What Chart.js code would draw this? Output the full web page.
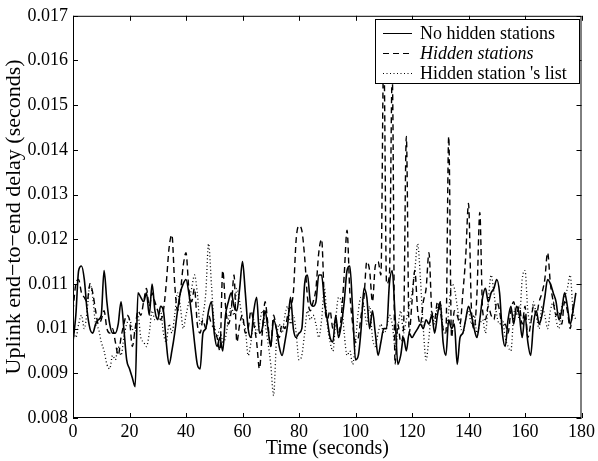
<!DOCTYPE html>
<html>
<head>
<meta charset="utf-8">
<script src="https://cdn.jsdelivr.net/npm/chart.js@4"></script>
<style>
  html,body{margin:0;padding:0;background:#fff}
  canvas{display:block}
</style>
</head>
<body>
<canvas id="delayChart" width="598" height="461"></canvas>
<script>
// ── data (one value per second) ──
const times = Array.from({length: 179}, (_, i) => i);

const noHidden = [
  .0097,.0103,.0113,.0114,.0111,.0104,.0100,.0099,.0101,.0102,
  .0103,.0113,.0106,.0101,.0099,.0099,.0101,.0106,.0100,.0093,
  .0091,.0089,.0087,.0108,.0107,.0106,.0108,.0103,.0110,.0104,
  .0102,.0105,.0104,.0097,.0092,.0095,.0099,.0104,.0108,.0110,
  .0111,.0108,.0103,.0097,.0092,.0091,.0099,.0100,.0104,.0106,
  .0099,.0096,.0098,.0095,.0103,.0106,.0108,.0105,.0104,.0109,
  .0115,.0108,.0100,.0098,.0104,.0107,.0099,.0100,.0104,.0100,
  .0096,.0102,.0100,.0096,.0094,.0097,.0101,.0107,.0100,.0098,
  .0099,.0100,.0110,.0112,.0106,.0105,.0106,.0112,.0112,.0106,
  .0102,.0098,.0097,.0103,.0098,.0101,.0106,.0113,.0114,.0104,
  .0093,.0094,.0100,.0109,.0107,.0100,.0104,.0099,.0094,.0097,
  .0100,.0100,.0110,.0113,.0103,.0092,.0094,.0098,.0095,.0099,
  .0098,.0099,.0100,.0101,.0100,.0102,.0101,.0103,.0099,.0103,
  .0106,.0097,.0094,.0102,.0100,.0101,.0092,.0098,.0099,.0102,
  .0105,.0103,.0100,.0098,.0102,.0107,.0109,.0106,.0108,.0109,
  .0111,.0108,.0099,.0096,.0102,.0105,.0101,.0105,.0103,.0098,
  .0103,.0097,.0094,.0101,.0104,.0101,.0103,.0107,.0111,.0110,
  .0108,.0106,.0102,.0104,.0108,.0105,.0101,.0104,.0108
];

const hiddenStations = [
  .0104,.0110,.0111,.0108,.0107,.0106,.0110,.0108,.0104,.0101,
  .0102,.0104,.0100,.0099,.0100,.0097,.0094,.0098,.0101,.0103,
  .0102,.0096,.0100,.0104,.0103,.0106,.0109,.0105,.0108,.0106,
  .0104,.0102,.0104,.0110,.0118,.0121,.0110,.0104,.0108,.0114,
  .0117,.0109,.0106,.0109,.0101,.0099,.0102,.0100,.0103,.0101,
  .0100,.0098,.0095,.0113,.0105,.0101,.0104,.0112,.0097,.0101,
  .0103,.0099,.0100,.0104,.0101,.0097,.0091,.0099,.0106,.0101,
  .0096,.0103,.0100,.0098,.0101,.0100,.0103,.0105,.0108,.0120,
  .0123,.0122,.0116,.0107,.0104,.0106,.0109,.0117,.0120,.0106,
  .0102,.0104,.0100,.0102,.0099,.0103,.0112,.0122,.0108,.0101,
  .0097,.0098,.0103,.0107,.0115,.0113,.0106,.0114,.0115,.0112,
  .0163,.0110,.0112,.0157,.0092,.0101,.0097,.0100,.0143,.0099,
  .0106,.0113,.0104,.0101,.0106,.0109,.0117,.0104,.0102,.0106,
  .0104,.0100,.0099,.0143,.0098,.0104,.0103,.0101,.0108,.0116,
  .0128,.0105,.0100,.0108,.0126,.0104,.0102,.0105,.0103,.0102,
  .0106,.0104,.0100,.0101,.0099,.0104,.0106,.0103,.0105,.0101,
  .0105,.0098,.0101,.0105,.0103,.0106,.0108,.0111,.0117,.0110,
  .0106,.0103,.0104,.0101,.0106,.0104,.0100,.0105,.0106
];

const stationList = [
  .0100,.0098,.0101,.0103,.0100,.0104,.0110,.0107,.0101,.0100,
  .0097,.0095,.0092,.0091,.0094,.0093,.0096,.0094,.0098,.0101,
  .0102,.0100,.0099,.0103,.0098,.0097,.0096,.0099,.0104,.0102,
  .0103,.0104,.0099,.0097,.0101,.0099,.0103,.0108,.0105,.0100,
  .0103,.0106,.0109,.0112,.0108,.0101,.0103,.0108,.0119,.0110,
  .0101,.0098,.0100,.0097,.0098,.0102,.0105,.0103,.0109,.0106,
  .0102,.0100,.0094,.0097,.0102,.0099,.0101,.0104,.0101,.0097,
  .0092,.0085,.0097,.0101,.0099,.0103,.0105,.0101,.0103,.0099,
  .0093,.0094,.0099,.0104,.0102,.0103,.0101,.0098,.0102,.0109,
  .0101,.0097,.0095,.0102,.0107,.0106,.0099,.0094,.0095,.0092,
  .0097,.0104,.0107,.0105,.0101,.0105,.0098,.0096,.0099,.0101,
  .0099,.0100,.0103,.0101,.0096,.0100,.0104,.0099,.0102,.0105,
  .0108,.0113,.0119,.0111,.0100,.0093,.0098,.0104,.0101,.0105,
  .0106,.0100,.0099,.0104,.0110,.0109,.0105,.0101,.0099,.0102,
  .0104,.0101,.0103,.0099,.0101,.0102,.0099,.0106,.0112,.0108,
  .0103,.0101,.0102,.0098,.0096,.0095,.0103,.0105,.0102,.0111,
  .0113,.0104,.0101,.0106,.0103,.0100,.0105,.0103,.0100,.0104,
  .0106,.0102,.0100,.0105,.0107,.0109,.0112,.0104,.0102
];

const xTicks = [0, 20, 40, 60, 80, 100, 120, 140, 160, 180];
const yTicks = [0.008, 0.009, 0.01, 0.011, 0.012, 0.013, 0.014, 0.015, 0.016, 0.017];

const seriesNames = ['No hidden stations', 'Hidden stations', "Hidden station 's list"];

const SERIF = '"Liberation Serif", "Times New Roman", serif';

const pts = arr => arr.map((v, i) => ({x: times[i], y: v}));

// box, inward ticks (all 4 sides) and the in-plot legend, MATLAB style
const framePlugin = {
  id: 'frame',
  afterDraw(chart) {
    const {ctx, chartArea: a, scales: {x, y}} = chart;
    ctx.save();
    ctx.strokeStyle = '#000';
    ctx.lineWidth = 1;
    ctx.setLineDash([]);
    ctx.strokeRect(a.left + .5, a.top + .5, a.right - a.left - 1, a.bottom - a.top - 1);
    const tl = 5;
    ctx.beginPath();
    xTicks.forEach(t => {
      const px = Math.round(x.getPixelForValue(t)) + .5;
      ctx.moveTo(px, a.bottom); ctx.lineTo(px, a.bottom - tl);
      ctx.moveTo(px, a.top); ctx.lineTo(px, a.top + tl);
    });
    yTicks.forEach(t => {
      const py = Math.round(y.getPixelForValue(t)) + .5;
      ctx.moveTo(a.left, py); ctx.lineTo(a.left + tl, py);
      ctx.moveTo(a.right, py); ctx.lineTo(a.right - tl, py);
    });
    ctx.stroke();

    // legend
    const bx = 375, by = 19, bw = 204, bh = 64;
    ctx.fillStyle = '#fff';
    ctx.fillRect(bx, by, bw, bh);
    ctx.strokeRect(bx + .5, by + .5, bw, bh);
    chart.data.datasets.forEach((ds, i) => {
      const ly = by + 14 + i * 20;
      ctx.beginPath();
      ctx.lineWidth = 1;
      ctx.setLineDash(ds.borderDash || []);
      ctx.moveTo(bx + 8, ly + .5); ctx.lineTo(bx + 37, ly + .5);
      ctx.stroke();
      ctx.setLineDash([]);
      ctx.fillStyle = '#000';
      ctx.textBaseline = 'middle';
      ctx.font = (i === 1 ? 'italic ' : '') + '18px ' + SERIF;
      ctx.fillText(ds.label, bx + 45, ly + 1);
    });
    ctx.restore();
  }
};

new Chart(document.getElementById('delayChart'), {
  type: 'line',
  data: {
    datasets: [
      {label: seriesNames[0], data: pts(noHidden), borderColor: '#000', borderWidth: 1.6},
      {label: seriesNames[1], data: pts(hiddenStations), borderColor: '#000', borderWidth: 1.4, borderDash: [6, 4]},
      {label: seriesNames[2], data: pts(stationList), borderColor: '#000', borderWidth: 1.3, borderDash: [1, 2.5]}
    ]
  },
  options: {
    responsive: false, animation: false,
    layout: {padding: {top: 15, right: 15, left: 0, bottom: 0}},
    elements: {point: {radius: 0}, line: {tension: 0.3, cubicInterpolationMode: 'monotone'}},
    plugins: {legend: {display: false}, tooltip: {enabled: false}},
    scales: {
      x: {
        type: 'linear', min: 0, max: 180,
        afterFit: s => { s.height = 43; },
        afterBuildTicks: s => { s.ticks = xTicks.map(v => ({value: v})); },
        ticks: {color: '#000', padding: 3, font: {family: SERIF, size: 18}, maxRotation: 0},
        grid: {display: false, drawTicks: false},
        border: {display: false},
        title: {display: true, text: 'Time (seconds)', color: '#000', font: {family: SERIF, size: 20}, padding: 0}
      },
      y: {
        min: 0.008, max: 0.017,
        afterFit: s => { s.width = 73; },
        afterBuildTicks: s => { s.ticks = yTicks.map(v => ({value: v})); },
        ticks: {color: '#000', padding: 5, font: {family: SERIF, size: 18}, callback: v => String(+v.toFixed(3))},
        grid: {display: false, drawTicks: false},
        border: {display: false},
        title: {display: true, text: 'Uplink end\u2212to\u2212end delay (seconds)', color: '#000', font: {family: SERIF, size: 22}, padding: {top: 1, bottom: 0}}
      }
    }
  },
  plugins: [framePlugin]
});
</script>
</body>
</html>
